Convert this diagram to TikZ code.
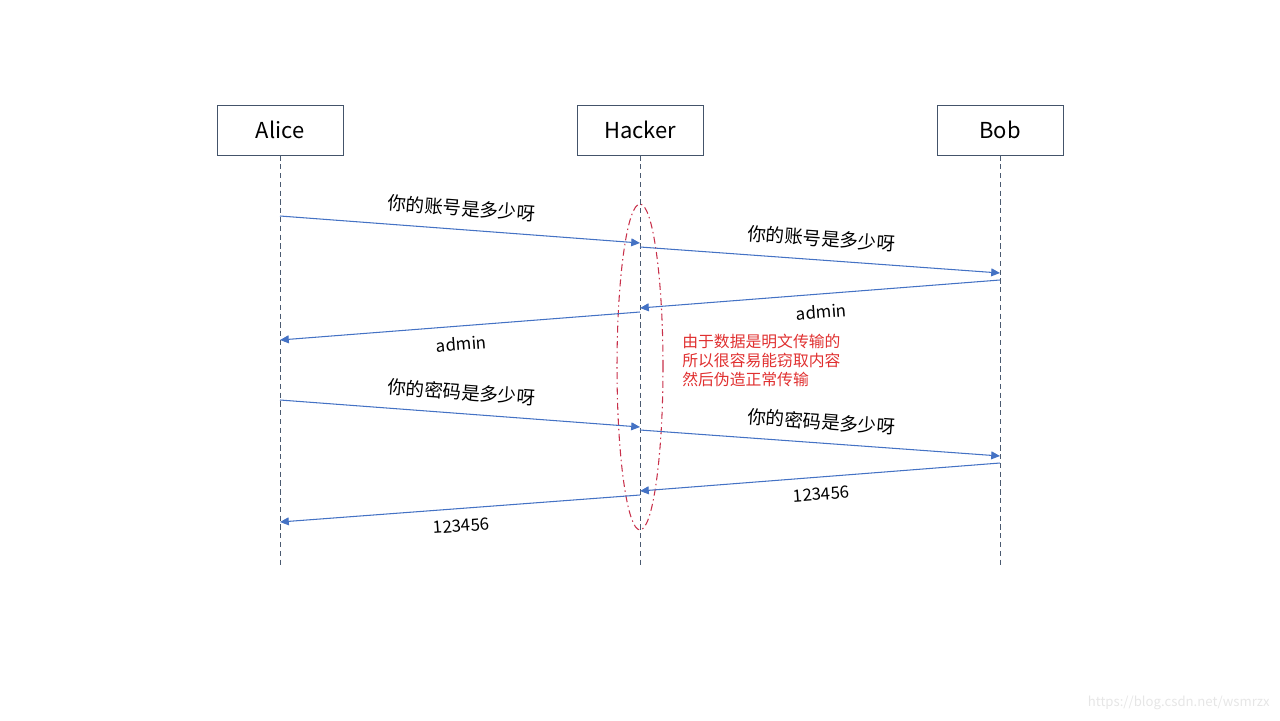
\documentclass[tikz,border=0pt]{standalone}
\usepackage{fontspec}
\setmainfont{Noto Sans CJK SC}
\usetikzlibrary{arrows.meta,shapes.geometric}
\definecolor{msgblue}{HTML}{4472C4}
\definecolor{boxline}{HTML}{44546A}
\definecolor{lifegray}{HTML}{4A5A70}
\definecolor{notered}{HTML}{E03030}
\definecolor{ringred}{HTML}{C8304A}
\definecolor{wmgray}{HTML}{E6E6E6}
\tikzset{
  actor/.style={draw=boxline, line width=0.5pt, minimum width=2.52cm, minimum height=1cm, inner sep=0pt, font=\fontsize{12.5}{14}\selectfont},
  lifeline/.style={draw=lifegray, line width=0.5pt, dash pattern=on 3pt off 2pt},
  msg/.style={draw=msgblue, line width=0.6pt, -{Triangle[length=5pt,width=4.5pt]}},
  cnlab/.style={inner sep=0pt, font=\fontsize{10.5}{12}\selectfont},
  enlab/.style={inner sep=0pt, font=\fontsize{9.6}{11}\selectfont},
  notetext/.style={inner sep=0pt, align=left, text=notered, font=\fontsize{9}{10.8}\selectfont},
  ring/.style={ellipse, draw=ringred, line width=0.6pt, dash pattern=on 4pt off 2pt on 0.8pt off 2pt, minimum width=0.92cm, minimum height=6.52cm, inner sep=0pt},
}
\begin{document}
\begin{tikzpicture}[x=0.02cm,y=-0.02cm]
\useasboundingbox (0,0) rectangle (1280,720);
% actors
\node[actor] (alice) at (280,130) {Alice};
\node[actor] (hacker) at (640,130) {Hacker};
\node[actor] (bob) at (1000,130) {Bob};
\coordinate (aliceEnd) at (280,566);
\coordinate (hackerEnd) at (640,566);
\coordinate (bobEnd) at (1000,566);
\draw[lifeline] (alice.south) -- (aliceEnd);
\draw[lifeline] (hacker.south) -- (hackerEnd);
\draw[lifeline] (bob.south) -- (bobEnd);
% interception ring
\node[ring] (sniff) at (640,367) {};
% message points
\coordinate (a1) at (280,216); \coordinate (h1) at (640,243);
\coordinate (h2) at (640,247); \coordinate (b2) at (1000,273);
\coordinate (b3) at (1000,280); \coordinate (h3) at (640,308);
\coordinate (h4) at (640,312); \coordinate (a4) at (280,340);
\coordinate (a5) at (280,400); \coordinate (h5) at (640,427);
\coordinate (h6) at (640,430); \coordinate (b6) at (1000,456);
\coordinate (b7) at (1000,463); \coordinate (h7) at (640,491);
\coordinate (h8) at (640,495); \coordinate (a8) at (280,522);
% messages
\draw[msg] (a1) -- node[cnlab, sloped, above=7pt] {你的账号是多少呀} (h1);
\draw[msg] (h2) -- node[cnlab, sloped, above=7pt] {你的账号是多少呀} (b2);
\draw[msg] (b3) -- node[enlab, sloped, below=6pt] {admin} (h3);
\draw[msg] (h4) -- node[enlab, sloped, below=6pt] {admin} (a4);
\draw[msg] (a5) -- node[cnlab, sloped, above=7pt] {你的密码是多少呀} (h5);
\draw[msg] (h6) -- node[cnlab, sloped, above=7pt] {你的密码是多少呀} (b6);
\draw[msg] (b7) -- node[enlab, sloped, below=6pt] {123456} (h7);
\draw[msg] (h8) -- node[enlab, sloped, below=6pt] {123456} (a8);
% note
\node[notetext, anchor=north west] (note) at (682,334) {由于数据是明文传输的\\所以很容易能窃取内容\\然后伪造正常传输};
% watermark
\node[inner sep=0pt, anchor=east, text=wmgray, font=\fontsize{7.5}{9}\selectfont] (wm) at (1270,703) {https://blog.csdn.net/wsmrzx};
\end{tikzpicture}
\end{document}
